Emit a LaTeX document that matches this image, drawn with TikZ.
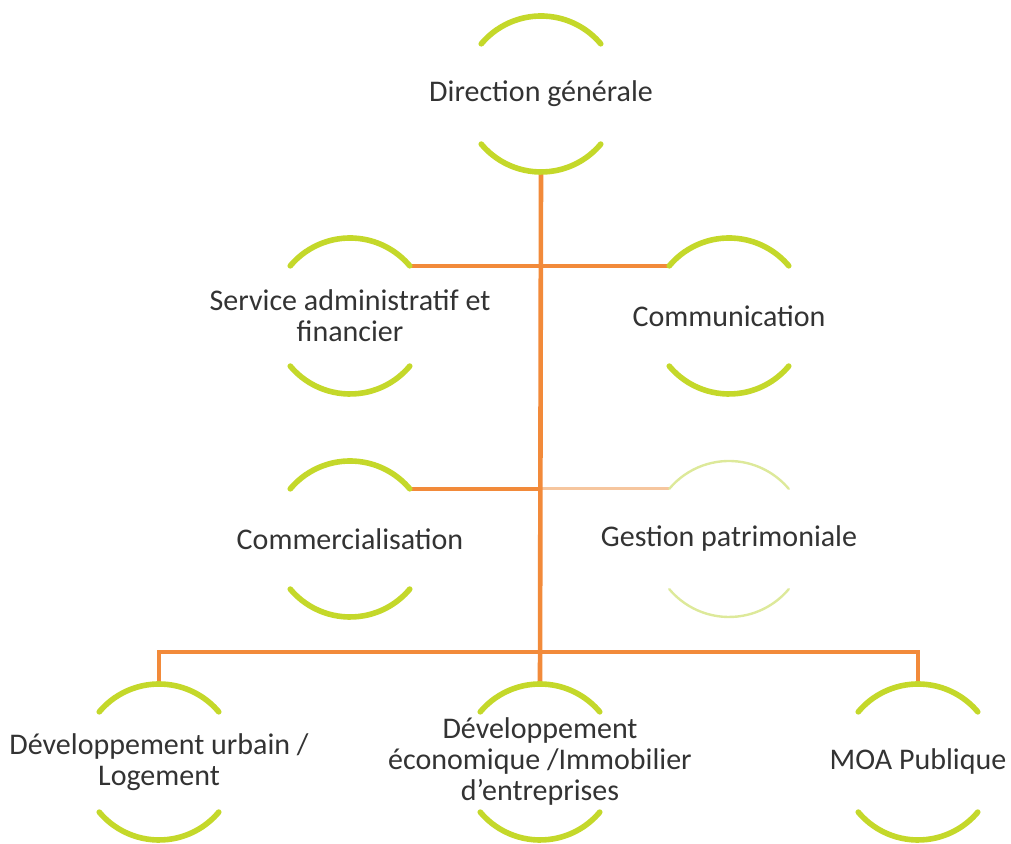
\documentclass[tikz,border=0pt]{standalone}
\usepackage{fontspec}
\setmainfont{Carlito}
\usepackage{tikz}
\usetikzlibrary{calc}
\definecolor{orgorange}{HTML}{F28A3A}
\definecolor{orglime}{HTML}{C4D82A}
\definecolor{orgpale}{HTML}{DDE99A}
\definecolor{orgpeach}{HTML}{F6C69E}
\definecolor{orgtext}{HTML}{333333}

\begin{document}
\begin{tikzpicture}[
    x=0.5pt, y=0.5pt,
    every node/.style={align=center, font=\fontsize{15}{15.5}\selectfont, text=orgtext, inner sep=0pt},
    arcline/.style={orglime, line width=2.8pt, line cap=round},
    arcpale/.style={orgpale, line width=1.2pt, line cap=round},
    link/.style={orgorange, line width=2.3pt},
    linkpale/.style={orgpeach, line width=1.6pt}
]
    \useasboundingbox (0,0) rectangle (1011,844);

    \node (direction) at (541,750) {Direction générale};
    \node (admin) at (350,528) {Service administratif et\\financier};
    \node (comm) at (729,528) {Communication};
    \node (commerce) at (350,305) {Commercialisation};
    \node (patrimoine) at (729,305) {Gestion patrimoniale};
    \node (urbain) at (159,82) {Développement urbain /\\Logement};
    \node (eco) at (540,82) {Développement\\économique /Immobilier\\d’entreprises};
    \node (moa) at (918,82) {MOA Publique};

    % points on the ring around each unit
    \foreach \n in {direction,admin,comm,commerce,patrimoine,urbain,eco,moa} {
        \coordinate (\n-ne) at ([shift={(40:78)}]\n.center);
        \coordinate (\n-nw) at ([shift={(140:78)}]\n.center);
        \coordinate (\n-n) at ([shift={(90:78)}]\n.center);
        \coordinate (\n-s) at ([shift={(-90:78)}]\n.center);
    }

    \draw[linkpale] (commerce-ne -| direction-s) -- (patrimoine-nw);
    \draw[link] (direction-s) -- (eco-n);
    \draw[link] (admin-ne) -- (comm-nw);
    \draw[link] (commerce-ne) -- (commerce-ne -| direction-s);
    \draw[link] (urbain-n) -- ++(0,32) -| (moa-n);

    \foreach \n in {direction,admin,comm,commerce,urbain,eco,moa} {
        \draw[arcline] (\n-nw) arc[start angle=140, end angle=40, radius=78];
        \draw[arcline] ([shift={(220:78)}]\n.center) arc[start angle=220, end angle=320, radius=78];
    }
    \draw[arcpale] (patrimoine-nw) arc[start angle=140, end angle=40, radius=78];
    \draw[arcpale] ([shift={(220:78)}]patrimoine.center) arc[start angle=220, end angle=320, radius=78];
\end{tikzpicture}
\end{document}
